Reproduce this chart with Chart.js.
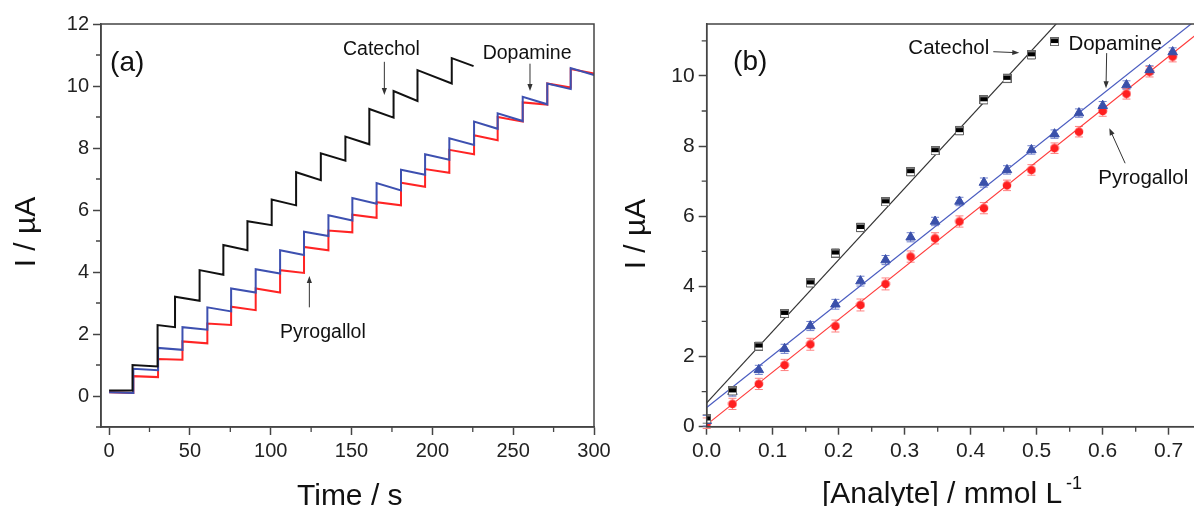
<!DOCTYPE html>
<html>
<head>
<meta charset="utf-8">
<script src="https://cdn.jsdelivr.net/npm/chart.js@4.4.1/dist/chart.umd.min.js"></script>
<style>
  html, body { margin: 0; padding: 0; background: #fff; overflow: hidden; }
  body { width: 1194px; height: 506px; position: relative; }
  canvas { position: absolute; top: 0; }
  #chartA { left: 0; }
  #chartB { left: 600px; }
</style>
</head>
<body>
<canvas id="chartA" width="620" height="506"></canvas>
<canvas id="chartB" width="640" height="506"></canvas>
<script>
const FONT = '"Liberation Sans", Arial, Helvetica, sans-serif';

// (a) amperometric steps: addition times [s], current right after a step and just before the next one [µA]
const catecholTimes = [0, 14.5, 30, 40.8, 56, 70.7, 85.6, 100.6, 115.7, 131, 146.2, 161, 176, 190.8, 212];
const catecholStop = 225.5;
const catecholTop = [0.18, 1.00, 2.29, 3.20, 4.06, 4.87, 5.64, 6.34, 7.22, 7.83, 8.37, 9.26, 9.84, 10.51, 10.90];
const catecholEnd = [0.18, 0.95, 2.22, 3.07, 3.91, 4.70, 5.51, 6.15, 6.96, 7.59, 8.12, 8.98, 9.52, 10.08, 10.64];

const stepTimes = [0, 15, 30.3, 45.4, 60.8, 75.5, 90.7, 105.8, 120.6, 135.7, 150.5, 165.5, 180.6, 195.5, 210.5, 225.8, 240.4, 255.9, 271.1, 285.6];
const runStop = 300;
const dopamineTop = [0.12, 0.88, 1.55, 2.22, 2.86, 3.47, 4.09, 4.70, 5.30, 5.83, 6.39, 6.87, 7.30, 7.80, 8.31, 8.85, 9.12, 9.65, 10.08, 10.58];
const dopamineEnd = [0.10, 0.83, 1.49, 2.14, 2.73, 3.34, 3.95, 4.55, 5.16, 5.66, 6.20, 6.63, 7.14, 7.62, 8.10, 8.62, 8.87, 9.41, 9.90, 10.35];
const pyrogallolTop = [0.12, 0.64, 1.19, 1.76, 2.34, 2.88, 3.47, 4.06, 4.81, 5.34, 5.85, 6.25, 6.88, 7.32, 7.94, 8.41, 9.00, 9.47, 10.08, 10.55];
const pyrogallolEnd = [0.10, 0.61, 1.17, 1.70, 2.29, 2.77, 3.34, 3.97, 4.70, 5.28, 5.75, 6.15, 6.75, 7.20, 7.80, 8.25, 8.85, 9.40, 9.95, 10.40];

const timeTicks = [0, 50, 100, 150, 200, 250, 300];
const timeMinor = [25, 75, 125, 175, 225, 275];
const currentTicksA = [0, 2, 4, 6, 8, 10, 12];
const currentMinorA = [-1, 1, 3, 5, 7, 9, 11];

// (b) calibration: concentration [mmol/L], mean current and error [µA]
const concentration = [0, 0.039, 0.079, 0.118, 0.157, 0.195, 0.233, 0.271, 0.309, 0.346, 0.383, 0.42, 0.455, 0.492, 0.527, 0.564, 0.6, 0.636, 0.671, 0.706];
const catecholMean = [0.22, 1.02, 2.30, 3.23, 4.10, 4.95, 5.68, 6.41, 7.27, 7.87, 8.44, 9.32, 9.93, 10.60, 10.98];
const dopamineMean = [0.17, 1.00, 1.62, 2.22, 2.87, 3.49, 4.15, 4.75, 5.40, 5.85, 6.42, 6.96, 7.32, 7.89, 8.34, 8.94, 9.15, 9.74, 10.17, 10.68];
const pyrogallolMean = [0.10, 0.65, 1.22, 1.76, 2.35, 2.87, 3.47, 4.07, 4.85, 5.37, 5.85, 6.23, 6.88, 7.32, 7.94, 8.41, 9.00, 9.49, 10.12, 10.55];
const catecholErr = [0.12, 0.12, 0.11, 0.10, 0.12, 0.12, 0.12, 0.10, 0.12, 0.10, 0.12, 0.12, 0.12, 0.12, 0.10];
const dopamineErr = [0.15, 0.13, 0.13, 0.13, 0.13, 0.14, 0.14, 0.13, 0.13, 0.12, 0.12, 0.13, 0.12, 0.12, 0.12, 0.12, 0.12, 0.12, 0.12, 0.12];
const pyrogallolErr = [0.15, 0.16, 0.16, 0.16, 0.17, 0.17, 0.17, 0.17, 0.16, 0.16, 0.16, 0.16, 0.15, 0.15, 0.15, 0.15, 0.15, 0.15, 0.15, 0.15];

// linear fits, values at the ends of fitX
const fitX = [0, 0.75];
const catecholFit = [0.68, 15.98];
const dopamineFit = [0.55, 11.72];
const pyrogallolFit = [0.06, 11.30];

const concTicks = [0, 0.1, 0.2, 0.3, 0.4, 0.5, 0.6, 0.7];
const concMinor = [0.05, 0.15, 0.25, 0.35, 0.45, 0.55, 0.65, 0.75];
const currentTicksB = [0, 2, 4, 6, 8, 10];
const currentMinorB = [1, 3, 5, 7, 9, 11];

// sawtooth trace: jump to "top" at each addition, decay to "end" before the next one
function stepTrace(times, tops, ends, stop) {
  const pts = [];
  times.forEach((t, i) => {
    pts.push({ x: t, y: tops[i] });
    pts.push({ x: i + 1 < times.length ? times[i + 1] : stop, y: ends[i] });
  });
  return pts;
}

function pairs(xs, ys) {
  return ys.map((y, i) => ({ x: xs[i], y }));
}

function arrow(ctx, x1, y1, x2, y2) {
  const a = Math.atan2(y2 - y1, x2 - x1);
  const L = 7, W = 2.6;
  ctx.beginPath();
  ctx.moveTo(x1, y1);
  ctx.lineTo(x2 - L * 0.7 * Math.cos(a), y2 - L * 0.7 * Math.sin(a));
  ctx.stroke();
  ctx.beginPath();
  ctx.moveTo(x2, y2);
  ctx.lineTo(x2 - L * Math.cos(a) + W * Math.sin(a), y2 - L * Math.sin(a) - W * Math.cos(a));
  ctx.lineTo(x2 - L * Math.cos(a) - W * Math.sin(a), y2 - L * Math.sin(a) + W * Math.cos(a));
  ctx.closePath();
  ctx.fill();
}

// box, minor ticks, axis titles, labels and arrows
function decorations(cfg) {
  return {
    id: "deco",
    afterDraw(chart) {
      const { ctx, chartArea: c, scales: { x, y } } = chart;
      ctx.save();
      ctx.strokeStyle = "#444";
      ctx.lineWidth = 1.5;
      ctx.strokeRect(c.left, c.top, c.right - c.left, c.bottom - c.top);

      ctx.lineWidth = 1.3;
      ctx.beginPath();
      cfg.minorX.forEach((v) => {
        const px = x.getPixelForValue(v);
        ctx.moveTo(px, c.bottom);
        ctx.lineTo(px, c.bottom + 5);
      });
      cfg.minorY.forEach((v) => {
        const py = y.getPixelForValue(v);
        ctx.moveTo(c.left, py);
        ctx.lineTo(c.left - 5, py);
      });
      ctx.stroke();

      ctx.fillStyle = "#111";
      ctx.textBaseline = "alphabetic";

      // y title
      ctx.save();
      ctx.translate(cfg.yTitle.x, cfg.yTitle.y);
      ctx.rotate(-Math.PI / 2);
      ctx.textAlign = "center";
      ctx.font = `30px ${FONT}`;
      ctx.fillText("I / µA", 0, 0);
      ctx.restore();

      // x title
      ctx.font = `30px ${FONT}`;
      ctx.textAlign = "left";
      ctx.fillText(cfg.xTitle.text, cfg.xTitle.x, cfg.xTitle.y);
      if (cfg.xTitle.sup) {
        const w = ctx.measureText(cfg.xTitle.text).width;
        ctx.font = `18px ${FONT}`;
        ctx.fillText(cfg.xTitle.sup, cfg.xTitle.x + w + 4, cfg.xTitle.y - 14);
      }

      // panel letter
      ctx.font = `28px ${FONT}`;
      ctx.fillText(cfg.panel.text, x.getPixelForValue(cfg.panel.x), y.getPixelForValue(cfg.panel.y));

      ctx.font = `${cfg.labelSize}px ${FONT}`;
      cfg.labels.forEach((l) => {
        ctx.fillText(l.text, x.getPixelForValue(l.x), y.getPixelForValue(l.y));
      });

      ctx.strokeStyle = "#333";
      ctx.fillStyle = "#333";
      ctx.lineWidth = 1;
      cfg.arrows.forEach((a) => {
        arrow(ctx,
          x.getPixelForValue(a[0]), y.getPixelForValue(a[1]),
          x.getPixelForValue(a[2]), y.getPixelForValue(a[3]));
      });
      ctx.restore();
    },
  };
}

// vertical error bars with caps, under the markers
const errorBars = {
  id: "errorBars",
  beforeDatasetsDraw(chart) {
    const { ctx, scales: { x, y } } = chart;
    ctx.save();
    ctx.lineWidth = 1;
    chart.data.datasets.forEach((ds) => {
      if (!ds.errors) return;
      ctx.strokeStyle = ds.errorColor;
      ctx.beginPath();
      ds.data.forEach((p, i) => {
        const px = x.getPixelForValue(p.x);
        const top = y.getPixelForValue(p.y + ds.errors[i]);
        const bot = y.getPixelForValue(p.y - ds.errors[i]);
        ctx.moveTo(px, top); ctx.lineTo(px, bot);
        ctx.moveTo(px - 4, top); ctx.lineTo(px + 4, top);
        ctx.moveTo(px - 4, bot); ctx.lineTo(px + 4, bot);
      });
      ctx.stroke();
    });
    ctx.restore();
  },
};

function axis(min, max, ticks, size, extra) {
  return Object.assign({
    type: "linear",
    min, max,
    afterBuildTicks: (s) => { s.ticks = ticks.map((v) => ({ value: v })); },
    grid: { drawOnChartArea: false, tickLength: 8, tickColor: "#444", tickWidth: 1.5 },
    border: { color: "#444", width: 1.5 },
    ticks: { color: "#222", font: { family: FONT, size }, padding: 4, maxRotation: 0, autoSkip: false },
  }, extra);
}

function baseOptions() {
  return {
    responsive: false,
    devicePixelRatio: 1,
    animation: false,
    events: [],
    plugins: { legend: { display: false }, tooltip: { enabled: false } },
  };
}

// --- (a) ---
const optsA = baseOptions();
optsA.layout = { padding: { left: 0, top: 24, right: 26, bottom: 0 } };
optsA.scales = {
  x: axis(-5, 300, timeTicks, 20, { afterFit: (s) => { s.height = 79; } }),
  y: axis(-1, 12, currentTicksA, 20, { afterFit: (s) => { s.width = 101; } }),
};

new Chart(document.getElementById("chartA"), {
  type: "line",
  data: {
    datasets: [
      { label: "Catechol", data: stepTrace(catecholTimes, catecholTop, catecholEnd, catecholStop), borderColor: "#111" },
      { label: "Dopamine", data: stepTrace(stepTimes, dopamineTop, dopamineEnd, runStop), borderColor: "#3d50b0" },
      { label: "Pyrogallol", data: stepTrace(stepTimes, pyrogallolTop, pyrogallolEnd, runStop), borderColor: "#ff2424" },
    ].map((d) => Object.assign(d, { borderWidth: 2, pointRadius: 0, tension: 0, fill: false })),
  },
  options: optsA,
  plugins: [decorations({
    minorX: timeMinor,
    minorY: currentMinorA,
    yTitle: { x: 35, y: 232 },
    xTitle: { text: "Time / s", x: 297, y: 505 },
    panel: { text: "(a)", x: 0.6, y: 10.5 },
    labelSize: 19.5,
    labels: [
      { text: "Catechol", x: 144.7, y: 11.0 },
      { text: "Dopamine", x: 231.1, y: 10.88 },
      { text: "Pyrogallol", x: 105.8, y: 1.87 },
    ],
    arrows: [
      [170.3, 10.78, 170.3, 9.71],
      [260.4, 10.72, 260.4, 9.84],
      [123.9, 2.86, 123.9, 3.87],
    ],
  })],
});

// --- (b) markers ---
function squareMarker() {
  const c = document.createElement("canvas");
  c.width = 9; c.height = 9;
  const g = c.getContext("2d");
  g.fillStyle = "#fff"; g.fillRect(0, 0, 9, 9);
  g.fillStyle = "#000"; g.fillRect(0, 1.5, 9, 4.5);
  g.strokeStyle = "#666"; g.lineWidth = 1; g.strokeRect(0.5, 0.5, 8, 8);
  return c;
}
function circleMarker() {
  const c = document.createElement("canvas");
  c.width = 10; c.height = 10;
  const g = c.getContext("2d");
  g.fillStyle = "#ff2020";
  g.beginPath(); g.arc(5, 5, 4.3, 0, Math.PI * 2); g.fill();
  g.strokeStyle = "#ff9090"; g.lineWidth = 1;
  g.beginPath(); g.arc(5, 5, 4.3, Math.PI * 1.1, Math.PI * 1.9); g.stroke();
  return c;
}

const optsB = baseOptions();
optsB.layout = { padding: { left: 0, top: 24, right: 38.3, bottom: 0 } };
optsB.scales = {
  x: axis(0, 0.75, concTicks, 21, { afterFit: (s) => { s.height = 79.3; } }),
  y: axis(0, 11.48, currentTicksB, 21, { afterFit: (s) => { s.width = 106.7; } }),
};
optsB.scales.x.ticks.callback = (v) => Number(v).toFixed(1);

const fitStyle = { showLine: true, pointRadius: 0, borderWidth: 1.2, fill: false };

new Chart(document.getElementById("chartB"), {
  type: "scatter",
  data: {
    datasets: [
      { label: "Catechol", data: pairs(concentration, catecholMean), errors: catecholErr, errorColor: "#777",
        pointStyle: squareMarker(), pointRadius: 4.5 },
      { label: "Dopamine", data: pairs(concentration, dopamineMean), errors: dopamineErr, errorColor: "#7080cc",
        pointStyle: "triangle", pointRadius: 5.5, backgroundColor: "#3a50aa", borderColor: "#3a50aa", borderWidth: 1 },
      { label: "Pyrogallol", data: pairs(concentration, pyrogallolMean), errors: pyrogallolErr, errorColor: "#ff8080",
        pointStyle: circleMarker(), pointRadius: 5 },
      Object.assign({ label: "Catechol fit", data: pairs(fitX, catecholFit), borderColor: "#333" }, fitStyle),
      Object.assign({ label: "Dopamine fit", data: pairs(fitX, dopamineFit), borderColor: "#4a5cc0" }, fitStyle),
      Object.assign({ label: "Pyrogallol fit", data: pairs(fitX, pyrogallolFit), borderColor: "#ff3a3a" }, fitStyle),
    ],
  },
  options: optsB,
  plugins: [errorBars, decorations({
    minorX: concMinor,
    minorY: currentMinorB,
    yTitle: { x: 45, y: 234 },
    xTitle: { text: "[Analyte] / mmol L", sup: "-1", x: 222, y: 503 },
    panel: { text: "(b)", x: 0.04, y: 10.16 },
    labelSize: 20.5,
    labels: [
      { text: "Catechol", x: 0.3055, y: 10.63 },
      { text: "Dopamine", x: 0.548, y: 10.74 },
      { text: "Pyrogallol", x: 0.5933, y: 6.91 },
    ],
    arrows: [
      [0.4342, 10.69, 0.4736, 10.66],
      [0.606, 10.65, 0.605, 9.65],
      [0.634, 7.51, 0.610, 8.51],
    ],
  })],
});
</script>
</body>
</html>
